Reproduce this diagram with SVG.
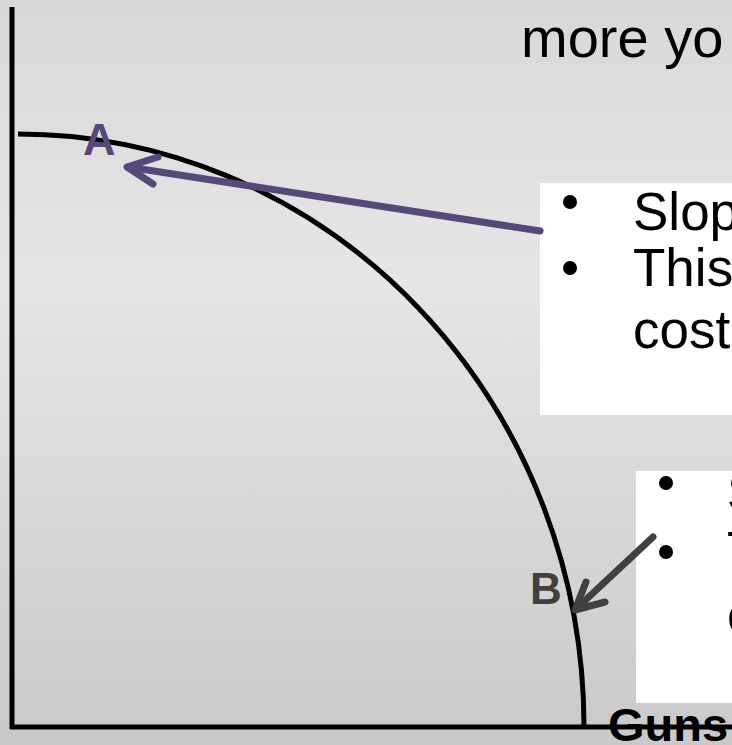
<svg xmlns="http://www.w3.org/2000/svg" width="732" height="745" viewBox="0 0 732 745">
<defs>
<linearGradient id="bg" x1="0" y1="0" x2="0" y2="1">
<stop offset="0" stop-color="#d8d8d8"/>
<stop offset="0.38" stop-color="#e6e6e6"/>
<stop offset="1" stop-color="#c9c9c9"/>
</linearGradient>
<style>
.t{font-family:"Liberation Sans",Arial,sans-serif;fill:#000}
.big{font-size:53px}
.lbl{font-family:"Liberation Sans",Arial,sans-serif;font-weight:bold}
.axis{stroke:#000;stroke-width:5;fill:none}
.box{fill:#fff}
</style>
</defs>
<rect width="732" height="745" fill="url(#bg)"/>
<g id="axes">
<line class="axis" x1="12" y1="7" x2="12" y2="729"/>
<line class="axis" x1="10" y1="727" x2="732" y2="727"/>
</g>
<g id="curve">
<path d="M18,134 A566,593 0 0 1 584,727" fill="none" stroke="#000" stroke-width="5"/>
</g>
<g id="topText">
<text class="t" x="521" y="57" font-size="56">more yo</text>
</g>
<g id="box1">
<rect class="box" x="540" y="183" width="192" height="232"/>
<circle cx="570" cy="202" r="7" fill="#000"/>
<circle cx="570" cy="268" r="7" fill="#000"/>
<text class="t big" x="633" y="230">Slop</text>
<text class="t big" x="633" y="286">This</text>
<text class="t big" x="633" y="348">cost</text>
</g>
<g id="box2">
<rect class="box" x="636" y="471" width="96" height="232"/>
<circle cx="666" cy="483" r="7" fill="#000"/>
<circle cx="666" cy="552" r="7" fill="#000"/>
<text class="t big" x="727" y="511">S</text>
<text class="t big" x="727" y="569">T</text>
<text class="t big" x="727" y="633">c</text>
</g>
<g id="labelA">
<text class="lbl" x="83" y="155" font-size="45" fill="#57487a">A</text>
</g>
<g id="labelB">
<text class="lbl" x="530" y="604" font-size="44" fill="#404040">B</text>
</g>
<g id="labelGuns">
<text class="lbl" x="608" y="741" font-size="47" fill="#000">Guns</text>
</g>
<g id="connectors" fill="none" stroke-linecap="round" stroke-linejoin="round" stroke-width="7">
<g stroke="#57487a">
<line x1="540" y1="231" x2="128" y2="167"/>
<polyline points="158,157 127,167 153,184"/>
</g>
<g stroke="#404040">
<line x1="653" y1="537" x2="577" y2="608"/>
<polyline points="586,582 575,610 605,602"/>
</g>
</g>
</svg>
